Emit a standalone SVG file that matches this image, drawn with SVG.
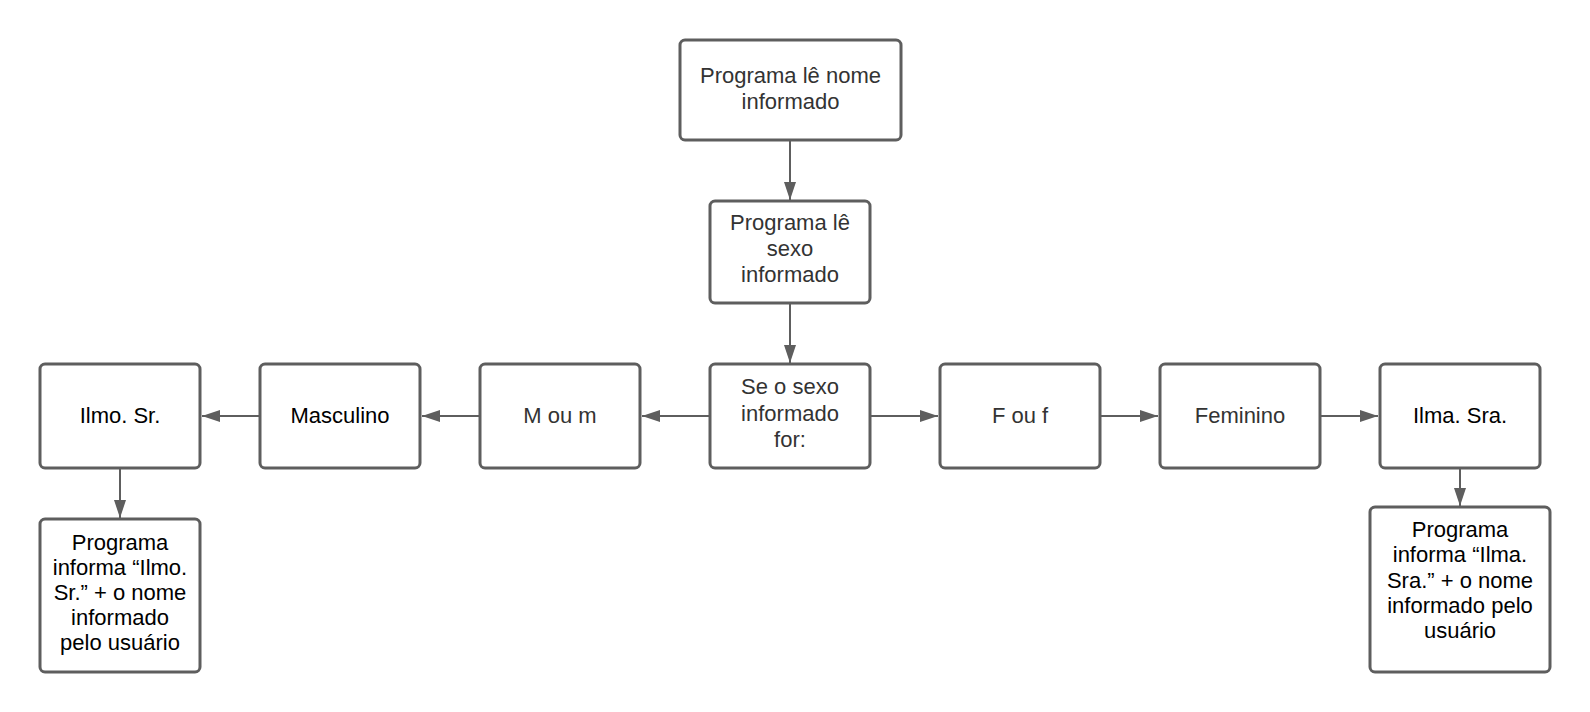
<svg xmlns="http://www.w3.org/2000/svg" width="1590" height="712" viewBox="0 0 1590 712">
<style>
.box{fill:#ffffff;stroke:#5e5e5e;stroke-width:3}
.t{font-family:"Liberation Sans",Arial,sans-serif;font-size:22px;text-anchor:middle;fill:#333333}
.k{fill:#000000}
.c{fill:none;stroke:#5e5e5e;stroke-width:2}
</style>
<defs>
<marker id="ah" markerWidth="18" markerHeight="12" refX="18" refY="6" orient="auto" markerUnits="userSpaceOnUse">
<path d="M0,0 L18,6 L0,12 Z" fill="#5e5e5e"/>
</marker>
</defs>
<rect width="1590" height="712" fill="#ffffff"/>
<g id="connectors">
<line class="c" x1="790" y1="140" x2="790" y2="200" marker-end="url(#ah)"/>
<line class="c" x1="790" y1="303" x2="790" y2="363" marker-end="url(#ah)"/>
<line class="c" x1="709" y1="416" x2="642" y2="416" marker-end="url(#ah)"/>
<line class="c" x1="479" y1="416" x2="422" y2="416" marker-end="url(#ah)"/>
<line class="c" x1="259" y1="416" x2="202" y2="416" marker-end="url(#ah)"/>
<line class="c" x1="120" y1="468" x2="120" y2="518" marker-end="url(#ah)"/>
<line class="c" x1="871" y1="416" x2="938" y2="416" marker-end="url(#ah)"/>
<line class="c" x1="1101" y1="416" x2="1158" y2="416" marker-end="url(#ah)"/>
<line class="c" x1="1321" y1="416" x2="1378" y2="416" marker-end="url(#ah)"/>
<line class="c" x1="1460" y1="468" x2="1460" y2="506" marker-end="url(#ah)"/>
</g>
<g id="n1">
<rect class="box" x="680" y="40" width="221" height="100" rx="5"/>
<text class="t" x="790.5" y="83">Programa lê nome</text>
<text class="t" x="790.5" y="109">informado</text>
</g>
<g id="n2">
<rect class="box" x="710" y="201" width="160" height="102" rx="5"/>
<text class="t" x="790" y="230">Programa lê</text>
<text class="t" x="790" y="256">sexo</text>
<text class="t" x="790" y="282">informado</text>
</g>
<g id="n3">
<rect class="box" x="710" y="364" width="160" height="104" rx="5"/>
<text class="t" x="790" y="394">Se o sexo</text>
<text class="t" x="790" y="421">informado</text>
<text class="t" x="790" y="447">for:</text>
</g>
<g id="n4">
<rect class="box" x="480" y="364" width="160" height="104" rx="5"/>
<text class="t" x="560" y="423">M ou m</text>
</g>
<g id="n5">
<rect class="box" x="260" y="364" width="160" height="104" rx="5"/>
<text class="t k" x="340" y="423">Masculino</text>
</g>
<g id="n6">
<rect class="box" x="40" y="364" width="160" height="104" rx="5"/>
<text class="t k" x="120" y="423">Ilmo. Sr.</text>
</g>
<g id="n7">
<rect class="box" x="40" y="519" width="160" height="153" rx="5"/>
<text class="t k" x="120" y="550">Programa</text>
<text class="t k" x="120" y="575">informa “Ilmo.</text>
<text class="t k" x="120" y="600">Sr.” + o nome</text>
<text class="t k" x="120" y="625">informado</text>
<text class="t k" x="120" y="650">pelo usuário</text>
</g>
<g id="n8">
<rect class="box" x="940" y="364" width="160" height="104" rx="5"/>
<text class="t" x="1020" y="423">F ou f</text>
</g>
<g id="n9">
<rect class="box" x="1160" y="364" width="160" height="104" rx="5"/>
<text class="t" x="1240" y="423">Feminino</text>
</g>
<g id="n10">
<rect class="box" x="1380" y="364" width="160" height="104" rx="5"/>
<text class="t k" x="1460" y="423">Ilma. Sra.</text>
</g>
<g id="n11">
<rect class="box" x="1370" y="507" width="180" height="165" rx="5"/>
<text class="t k" x="1460" y="537">Programa</text>
<text class="t k" x="1460" y="562">informa “Ilma.</text>
<text class="t k" x="1460" y="588">Sra.” + o nome</text>
<text class="t k" x="1460" y="613">informado pelo</text>
<text class="t k" x="1460" y="638">usuário</text>
</g>
</svg>
